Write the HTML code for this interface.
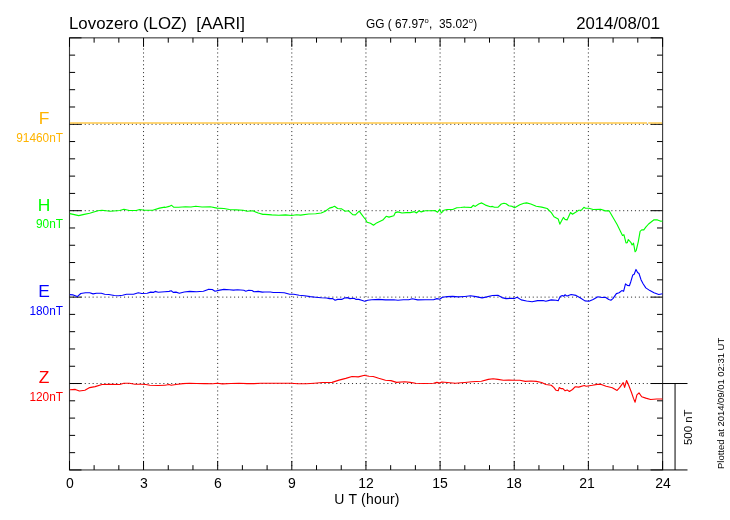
<!DOCTYPE html>
<html><head><meta charset="utf-8"><title>Lovozero (LOZ) magnetogram</title><style>
html,body{margin:0;padding:0;background:#fff;}
body{width:730px;height:520px;position:relative;overflow:hidden;font-family:"Liberation Sans",sans-serif;color:#000;}
.t{position:absolute;white-space:pre;line-height:1;will-change:transform;}
.r{position:absolute;white-space:pre;line-height:1;transform-origin:0 0;transform:rotate(-90deg);will-change:transform;}
sup{font-size:64%;vertical-align:0;position:relative;top:-0.64em;line-height:0;letter-spacing:0.3px;}
</style></head><body>
<svg width="730" height="520" viewBox="0 0 730 520" style="position:absolute;left:0;top:0">
<rect x="0" y="0" width="730" height="520" fill="#fff"/>
<g stroke="#333" stroke-width="1" stroke-dasharray="1.1 2.83"><line x1="143.54" y1="40.63" x2="143.54" y2="468.95"/><line x1="217.68" y1="40.63" x2="217.68" y2="468.95"/><line x1="291.81" y1="40.63" x2="291.81" y2="468.95"/><line x1="365.95" y1="40.63" x2="365.95" y2="468.95"/><line x1="440.09" y1="40.63" x2="440.09" y2="468.95"/><line x1="514.23" y1="40.63" x2="514.23" y2="468.95"/><line x1="588.36" y1="40.63" x2="588.36" y2="468.95"/><line x1="69" y1="124.27" x2="662.6" y2="124.27"/><line x1="69" y1="210.69" x2="662.6" y2="210.69"/><line x1="69" y1="297.11" x2="662.6" y2="297.11"/><line x1="69" y1="383.53" x2="662.6" y2="383.53"/></g>
<rect x="69.5" y="37.85" width="593.1" height="432.1" fill="none" stroke="#3a3a3a" stroke-width="1.1"/>
<g stroke="#000" stroke-width="1" fill="none"><line x1="69.5" y1="37.85" x2="69.5" y2="46.85"/><line x1="69.5" y1="469.95" x2="69.5" y2="460.95"/><line x1="94.11" y1="37.85" x2="94.11" y2="42.65"/><line x1="94.11" y1="469.95" x2="94.11" y2="465.15"/><line x1="118.83" y1="37.85" x2="118.83" y2="42.65"/><line x1="118.83" y1="469.95" x2="118.83" y2="465.15"/><line x1="143.54" y1="37.85" x2="143.54" y2="46.85"/><line x1="143.54" y1="469.95" x2="143.54" y2="460.95"/><line x1="168.25" y1="37.85" x2="168.25" y2="42.65"/><line x1="168.25" y1="469.95" x2="168.25" y2="465.15"/><line x1="192.96" y1="37.85" x2="192.96" y2="42.65"/><line x1="192.96" y1="469.95" x2="192.96" y2="465.15"/><line x1="217.68" y1="37.85" x2="217.68" y2="46.85"/><line x1="217.68" y1="469.95" x2="217.68" y2="460.95"/><line x1="242.39" y1="37.85" x2="242.39" y2="42.65"/><line x1="242.39" y1="469.95" x2="242.39" y2="465.15"/><line x1="267.1" y1="37.85" x2="267.1" y2="42.65"/><line x1="267.1" y1="469.95" x2="267.1" y2="465.15"/><line x1="291.81" y1="37.85" x2="291.81" y2="46.85"/><line x1="291.81" y1="469.95" x2="291.81" y2="460.95"/><line x1="316.52" y1="37.85" x2="316.52" y2="42.65"/><line x1="316.52" y1="469.95" x2="316.52" y2="465.15"/><line x1="341.24" y1="37.85" x2="341.24" y2="42.65"/><line x1="341.24" y1="469.95" x2="341.24" y2="465.15"/><line x1="365.95" y1="37.85" x2="365.95" y2="46.85"/><line x1="365.95" y1="469.95" x2="365.95" y2="460.95"/><line x1="390.66" y1="37.85" x2="390.66" y2="42.65"/><line x1="390.66" y1="469.95" x2="390.66" y2="465.15"/><line x1="415.38" y1="37.85" x2="415.38" y2="42.65"/><line x1="415.38" y1="469.95" x2="415.38" y2="465.15"/><line x1="440.09" y1="37.85" x2="440.09" y2="46.85"/><line x1="440.09" y1="469.95" x2="440.09" y2="460.95"/><line x1="464.8" y1="37.85" x2="464.8" y2="42.65"/><line x1="464.8" y1="469.95" x2="464.8" y2="465.15"/><line x1="489.51" y1="37.85" x2="489.51" y2="42.65"/><line x1="489.51" y1="469.95" x2="489.51" y2="465.15"/><line x1="514.23" y1="37.85" x2="514.23" y2="46.85"/><line x1="514.23" y1="469.95" x2="514.23" y2="460.95"/><line x1="538.94" y1="37.85" x2="538.94" y2="42.65"/><line x1="538.94" y1="469.95" x2="538.94" y2="465.15"/><line x1="563.65" y1="37.85" x2="563.65" y2="42.65"/><line x1="563.65" y1="469.95" x2="563.65" y2="465.15"/><line x1="588.36" y1="37.85" x2="588.36" y2="46.85"/><line x1="588.36" y1="469.95" x2="588.36" y2="460.95"/><line x1="613.08" y1="37.85" x2="613.08" y2="42.65"/><line x1="613.08" y1="469.95" x2="613.08" y2="465.15"/><line x1="637.79" y1="37.85" x2="637.79" y2="42.65"/><line x1="637.79" y1="469.95" x2="637.79" y2="465.15"/><line x1="662.6" y1="37.85" x2="662.6" y2="46.85"/><line x1="662.6" y1="469.95" x2="662.6" y2="460.95"/><line x1="69.5" y1="37.85" x2="81.5" y2="37.85"/><line x1="662.6" y1="37.85" x2="650.6" y2="37.85"/><line x1="69.5" y1="55.13" x2="75.1" y2="55.13"/><line x1="662.6" y1="55.13" x2="657" y2="55.13"/><line x1="69.5" y1="72.42" x2="75.1" y2="72.42"/><line x1="662.6" y1="72.42" x2="657" y2="72.42"/><line x1="69.5" y1="89.7" x2="75.1" y2="89.7"/><line x1="662.6" y1="89.7" x2="657" y2="89.7"/><line x1="69.5" y1="106.99" x2="75.1" y2="106.99"/><line x1="662.6" y1="106.99" x2="657" y2="106.99"/><line x1="69.5" y1="124.27" x2="81.5" y2="124.27"/><line x1="662.6" y1="124.27" x2="650.6" y2="124.27"/><line x1="69.5" y1="141.55" x2="75.1" y2="141.55"/><line x1="662.6" y1="141.55" x2="657" y2="141.55"/><line x1="69.5" y1="158.84" x2="75.1" y2="158.84"/><line x1="662.6" y1="158.84" x2="657" y2="158.84"/><line x1="69.5" y1="176.12" x2="75.1" y2="176.12"/><line x1="662.6" y1="176.12" x2="657" y2="176.12"/><line x1="69.5" y1="193.41" x2="75.1" y2="193.41"/><line x1="662.6" y1="193.41" x2="657" y2="193.41"/><line x1="69.5" y1="210.69" x2="81.5" y2="210.69"/><line x1="662.6" y1="210.69" x2="650.6" y2="210.69"/><line x1="69.5" y1="227.97" x2="75.1" y2="227.97"/><line x1="662.6" y1="227.97" x2="657" y2="227.97"/><line x1="69.5" y1="245.26" x2="75.1" y2="245.26"/><line x1="662.6" y1="245.26" x2="657" y2="245.26"/><line x1="69.5" y1="262.54" x2="75.1" y2="262.54"/><line x1="662.6" y1="262.54" x2="657" y2="262.54"/><line x1="69.5" y1="279.83" x2="75.1" y2="279.83"/><line x1="662.6" y1="279.83" x2="657" y2="279.83"/><line x1="69.5" y1="297.11" x2="81.5" y2="297.11"/><line x1="662.6" y1="297.11" x2="650.6" y2="297.11"/><line x1="69.5" y1="314.39" x2="75.1" y2="314.39"/><line x1="662.6" y1="314.39" x2="657" y2="314.39"/><line x1="69.5" y1="331.68" x2="75.1" y2="331.68"/><line x1="662.6" y1="331.68" x2="657" y2="331.68"/><line x1="69.5" y1="348.96" x2="75.1" y2="348.96"/><line x1="662.6" y1="348.96" x2="657" y2="348.96"/><line x1="69.5" y1="366.25" x2="75.1" y2="366.25"/><line x1="662.6" y1="366.25" x2="657" y2="366.25"/><line x1="69.5" y1="383.53" x2="81.5" y2="383.53"/><line x1="662.6" y1="383.53" x2="650.6" y2="383.53"/><line x1="69.5" y1="400.81" x2="75.1" y2="400.81"/><line x1="662.6" y1="400.81" x2="657" y2="400.81"/><line x1="69.5" y1="418.1" x2="75.1" y2="418.1"/><line x1="662.6" y1="418.1" x2="657" y2="418.1"/><line x1="69.5" y1="435.38" x2="75.1" y2="435.38"/><line x1="662.6" y1="435.38" x2="657" y2="435.38"/><line x1="69.5" y1="452.67" x2="75.1" y2="452.67"/><line x1="662.6" y1="452.67" x2="657" y2="452.67"/><line x1="69.5" y1="469.95" x2="81.5" y2="469.95"/><line x1="662.6" y1="469.95" x2="650.6" y2="469.95"/><line x1="662.6" y1="383.53" x2="687.5" y2="383.53"/><line x1="662.6" y1="469.95" x2="687.5" y2="469.95"/><line x1="675.05" y1="383.53" x2="675.05" y2="469.95"/></g>
<polyline points="70.0,123.0 647.0,123.0" fill="none" stroke="#ffc94a" stroke-width="1.45" stroke-linejoin="round"/>
<polyline points="648.2,123.0 662.1,123.0" fill="none" stroke="#ffc94a" stroke-width="1.45"/>
<polyline points="69.8,213.6 73.2,214.4 78.7,215.6 84.2,214.4 89.7,213.3 97.9,210.8 102.0,210.3 110.2,211.2 119.8,210.5 123.9,209.2 129.4,210.5 136.2,210.5 139.7,209.5 144.5,210.3 152.7,210.3 159.5,208.1 164.7,207.1 165.0,207.5 169.1,206.4 171.6,205.3 173.9,207.3 178.7,207.3 185.5,206.7 191.0,207.0 195.8,206.2 202.0,207.0 210.2,206.8 217.1,208.1 223.9,208.5 229.4,209.5 236.2,209.9 243.1,210.3 247.2,211.2 252.7,210.8 258.2,213.0 262.9,214.4 264.7,214.4 265.0,214.4 271.8,214.9 278.7,215.2 285.5,214.9 291.7,215.5 296.5,214.7 300.6,215.1 308.8,214.0 315.7,213.8 321.2,213.0 325.3,211.2 329.4,208.1 332.8,207.1 334.6,206.2 337.6,208.5 341.7,208.9 345.1,211.2 348.6,210.8 352.7,214.7 355.4,214.9 359.2,211.2 361.6,214.4 364.7,218.5 365.0,218.5 367.1,222.2 370.5,223.3 373.5,225.3 376.6,222.9 382.8,220.1 386.2,216.3 389.0,217.1 393.8,215.8 395.4,212.6 397.9,211.9 402.0,213.0 406.1,212.6 410.2,212.6 414.3,211.6 416.4,213.0 419.1,210.8 421.2,211.9 425.3,210.8 430.8,210.8 434.9,210.5 437.6,212.2 439.7,209.2 441.4,213.0 443.8,210.3 447.2,209.5 452.7,209.5 456.8,207.8 460.9,207.5 464.7,207.0 465.0,207.1 471.2,207.5 473.2,205.3 475.3,206.4 478.7,204.0 481.7,202.9 485.5,205.1 490.3,206.7 492.4,206.4 494.5,207.3 497.9,207.3 501.3,204.0 504.0,203.3 506.1,203.7 508.8,205.8 512.3,206.4 514.6,207.8 519.8,204.8 523.9,203.2 526.6,202.9 530.8,204.0 536.2,206.2 541.7,207.1 547.2,208.5 551.3,212.6 554.0,216.7 558.2,219.0 559.8,224.2 561.6,220.8 563.4,217.4 564.7,219.0 565.0,219.4 567.1,219.9 570.5,212.5 572.5,214.2 576.0,212.1 578.7,210.3 581.2,210.3 583.9,207.3 585.5,208.3 589.0,208.2 593.1,209.5 600.6,209.2 605.4,210.9 609.1,210.8 612.3,216.2 617.1,224.5 622.5,235.4 623.9,234.7 626.0,242.9 627.3,242.7 628.3,239.5 630.8,242.3 632.1,245.0 633.5,243.2 635.1,251.8 636.2,250.5 638.3,241.6 640.1,231.3 641.7,229.9 643.8,229.9 645.8,227.2 648.6,224.0 654.0,219.7 657.5,219.9 660.9,221.3 662.5,221.0" fill="none" stroke="#00ff00" stroke-width="1.12" stroke-linejoin="round"/>
<polyline points="69.8,294.6 73.2,294.9 77.3,296.6 80.8,293.5 85.5,292.8 89.7,292.8 93.1,293.9 96.5,293.2 101.3,293.2 104.7,294.2 108.8,294.5 114.3,295.5 118.4,295.8 122.5,295.3 126.6,294.2 133.5,294.2 138.3,292.8 141.7,293.5 147.2,293.2 150.6,292.1 153.4,292.4 155.1,291.4 158.2,292.3 164.7,291.8 165.0,291.8 169.1,291.4 171.2,290.8 173.2,292.4 176.0,292.1 179.4,293.2 184.2,292.0 189.7,291.4 196.5,291.8 203.4,291.2 208.2,289.4 212.3,289.5 215.0,291.2 219.8,290.1 223.9,289.4 229.4,289.8 233.5,290.1 237.6,289.7 243.8,290.3 245.8,291.2 248.6,290.3 252.0,290.5 254.0,291.8 258.2,291.4 262.3,292.1 264.7,292.0 265.0,292.0 270.5,292.0 273.2,292.5 278.7,292.5 284.2,292.8 289.7,294.2 293.8,294.2 299.2,295.3 304.7,295.8 310.2,296.6 315.7,297.2 321.2,297.7 326.6,298.0 329.4,298.6 332.8,298.6 335.1,300.3 337.6,299.4 341.7,299.4 344.5,298.0 347.2,297.6 349.9,298.6 354.0,298.3 356.1,299.4 358.8,299.4 361.6,300.3 364.7,301.3 365.0,301.3 367.7,300.3 371.8,299.7 378.7,299.4 385.5,299.9 393.8,299.7 397.9,300.3 403.4,299.7 408.8,299.7 412.3,298.7 417.7,299.9 425.3,299.7 433.5,299.7 436.9,298.6 439.7,299.2 442.4,297.2 447.2,296.6 452.7,296.4 458.2,296.9 464.7,296.5 465.0,296.5 470.5,295.8 476.0,296.6 482.1,297.9 486.9,296.9 492.4,295.5 497.9,295.3 502.0,297.6 506.1,298.6 511.6,298.3 514.3,298.6 517.1,297.3 521.2,299.9 526.6,301.0 532.1,301.8 537.6,300.6 543.1,300.5 545.8,301.3 551.3,299.9 556.1,300.3 558.2,300.8 560.2,296.6 562.3,295.5 563.6,296.2 564.7,295.3 565.0,294.7 567.1,296.1 571.2,294.5 576.0,295.4 580.1,297.7 584.9,300.9 589.0,301.3 593.1,299.5 597.9,296.8 602.0,297.5 605.4,297.2 608.8,299.5 610.9,300.2 612.9,298.6 616.4,293.6 619.1,292.7 621.8,290.6 623.6,291.3 625.5,283.8 627.3,285.4 629.4,285.8 630.8,281.7 632.8,274.9 634.2,274.2 636.0,269.4 637.6,272.5 639.0,273.5 641.0,279.7 643.1,283.8 645.8,287.9 649.9,290.6 654.0,292.7 658.8,294.5 662.5,293.8" fill="none" stroke="#0000ff" stroke-width="1.12" stroke-linejoin="round"/>
<polyline points="69.8,389.7 75.3,389.4 79.4,391.0 84.9,390.3 89.7,387.6 95.1,386.6 102.0,384.5 110.2,384.2 119.8,384.5 123.9,383.2 129.4,383.2 134.9,384.2 141.7,384.2 145.8,384.5 149.9,385.3 158.2,385.5 164.7,385.3 165.0,385.3 169.1,384.5 171.2,385.3 176.0,384.5 182.8,383.6 189.7,383.2 196.5,383.5 204.7,383.6 212.9,383.8 217.1,383.2 222.5,383.9 230.8,383.5 239.0,383.2 247.2,383.6 254.0,383.6 260.9,383.2 264.7,383.2 265.0,383.2 278.7,383.2 291.0,383.2 297.9,383.8 306.1,383.8 314.3,383.2 322.5,382.5 332.1,382.4 339.0,380.1 345.8,378.4 352.0,376.5 358.2,376.9 364.7,375.3 365.0,375.5 369.1,376.2 373.2,376.5 378.7,378.3 385.5,380.3 391.0,380.6 396.5,382.4 404.7,381.8 410.2,382.4 415.7,383.2 423.9,383.5 433.5,383.2 436.9,382.4 439.7,383.1 441.7,382.0 447.2,382.5 455.4,383.2 460.9,382.8 464.7,382.5 465.0,382.5 471.8,381.7 481.4,381.2 488.3,379.4 493.1,378.7 497.9,379.4 503.4,380.3 508.8,380.1 514.3,380.3 519.8,380.3 525.3,381.4 530.8,381.0 536.2,381.4 541.7,382.5 545.8,384.5 551.3,385.3 554.0,387.6 556.1,390.3 558.2,390.8 559.2,387.6 560.9,388.6 562.9,388.6 564.7,390.3 565.0,390.8 567.1,389.9 569.4,391.5 572.5,389.5 575.3,386.7 578.7,387.1 584.2,385.5 586.2,386.3 592.4,385.3 597.2,384.4 601.3,384.4 606.1,386.3 612.3,387.7 617.1,390.4 619.8,387.4 623.2,382.6 624.6,387.4 626.6,380.5 628.7,385.3 631.4,392.2 633.5,398.4 635.1,402.2 636.9,394.9 639.0,392.9 641.7,396.7 645.8,398.1 650.6,399.5 656.8,399.0 662.5,399.0" fill="none" stroke="#ff0000" stroke-width="1.12" stroke-linejoin="round"/>
</svg>
<div class="t" style="left:69px;top:15.74px;font-size:16.85px;color:#000;">Lovozero (LOZ)  [AARI]</div>
<div class="t" style="left:366.2px;top:19.17px;font-size:11.85px;color:#000;">GG ( 67.97<sup>o</sup>,  35.02<sup>o</sup>)</div>
<div class="t" style="left:660.0px;top:15.82px;font-size:16.75px;color:#000;transform:translateX(-100%);">2014/08/01</div>
<div class="t" style="left:44.1px;top:110.14px;font-size:17.4px;color:#ffb400;transform:translateX(-50%);">F</div>
<div class="t" style="left:63.1px;top:132.84px;font-size:11.85px;color:#ffb400;transform:translateX(-100%);">91460nT</div>
<div class="t" style="left:44.1px;top:196.56px;font-size:17.4px;color:#00ff00;transform:translateX(-50%);">H</div>
<div class="t" style="left:63.1px;top:218.96px;font-size:11.85px;color:#00ff00;transform:translateX(-100%);">90nT</div>
<div class="t" style="left:44.1px;top:282.98px;font-size:17.4px;color:#0000ff;transform:translateX(-50%);">E</div>
<div class="t" style="left:63.1px;top:305.68px;font-size:11.85px;color:#0000ff;transform:translateX(-100%);">180nT</div>
<div class="t" style="left:44.1px;top:369.40px;font-size:17.4px;color:#ff0000;transform:translateX(-50%);">Z</div>
<div class="t" style="left:63.1px;top:392.10px;font-size:11.85px;color:#ff0000;transform:translateX(-100%);">120nT</div>
<div class="t" style="left:69.5px;top:476.15px;font-size:14px;color:#000;transform:translateX(-50%);">0</div>
<div class="t" style="left:143.6375px;top:476.15px;font-size:14px;color:#000;transform:translateX(-50%);">3</div>
<div class="t" style="left:217.775px;top:476.15px;font-size:14px;color:#000;transform:translateX(-50%);">6</div>
<div class="t" style="left:291.9125px;top:476.15px;font-size:14px;color:#000;transform:translateX(-50%);">9</div>
<div class="t" style="left:366.05px;top:476.15px;font-size:14px;color:#000;transform:translateX(-50%);">12</div>
<div class="t" style="left:440.18750000000006px;top:476.15px;font-size:14px;color:#000;transform:translateX(-50%);">15</div>
<div class="t" style="left:514.325px;top:476.15px;font-size:14px;color:#000;transform:translateX(-50%);">18</div>
<div class="t" style="left:587.2625px;top:476.15px;font-size:14px;color:#000;transform:translateX(-50%);">21</div>
<div class="t" style="left:662.6px;top:476.15px;font-size:14px;color:#000;transform:translateX(-50%);">24</div>
<div class="t" style="left:366.5px;top:491.85px;font-size:14px;color:#000;transform:translateX(-50%);"><span style="letter-spacing:0.2px">U T (hour)</span></div>
<div class="r" style="left:682.75px;top:445.3px;font-size:11.4px;">500 nT</div>
<div class="r" style="left:716.30px;top:469px;font-size:9.45px;">Plotted at 2014/09/01 02:31 UT</div>
</body></html>
